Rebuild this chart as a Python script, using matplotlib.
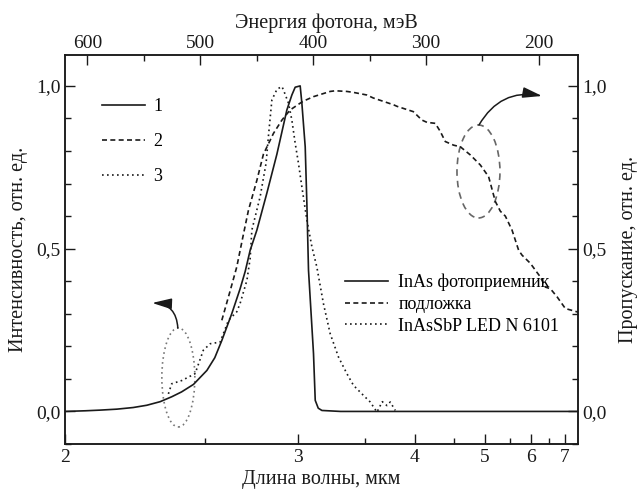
import numpy as np
import matplotlib
matplotlib.use('Agg')
import matplotlib.pyplot as plt
from matplotlib.patches import Ellipse

plt.rcParams['font.family'] = ['Liberation Serif', 'DejaVu Serif']

HC = 1239.84  # meV * um

# InAs photodetector (left axis)
lam_det = [2.000, 2.060, 2.105, 2.160, 2.216, 2.265, 2.315, 2.360, 2.400, 2.450,
           2.509, 2.545, 2.578, 2.626, 2.668, 2.694, 2.720, 2.756, 2.811, 2.869,
           2.929, 2.960, 2.981, 3.013, 3.024, 3.046, 3.057, 3.068, 3.102, 3.114,
           3.135, 3.161, 3.300, 5.000, 7.500]
int_det = [0.000, 0.002, 0.004, 0.007, 0.012, 0.019, 0.030, 0.045, 0.060, 0.083,
           0.126, 0.165, 0.218, 0.300, 0.377, 0.430, 0.495, 0.557, 0.670, 0.790,
           0.926, 0.972, 0.996, 1.000, 0.947, 0.813, 0.640, 0.434, 0.178, 0.034,
           0.010, 0.003, 0.000, 0.000, 0.000]

# substrate transmission (right axis)
lam_sub = [2.578, 2.618, 2.651, 2.680, 2.711, 2.756, 2.792, 2.849, 2.899, 2.949,
           3.013, 3.033, 3.102, 3.221, 3.259, 3.350, 3.404, 3.519, 3.575, 3.771,
           3.809, 3.983, 4.084, 4.145, 4.249, 4.315, 4.383, 4.499, 4.599, 4.755,
           4.923, 5.071, 5.197, 5.296, 5.398, 5.541, 5.690, 5.770, 5.974, 6.241,
           6.384, 6.533, 6.744, 7.025, 7.331, 7.500]
tr_sub = [0.280, 0.370, 0.444, 0.530, 0.618, 0.710, 0.790, 0.854, 0.895, 0.926,
          0.947, 0.953, 0.967, 0.983, 0.985, 0.983, 0.980, 0.972, 0.963, 0.942,
          0.937, 0.921, 0.895, 0.888, 0.885, 0.860, 0.829, 0.818, 0.813, 0.788,
          0.757, 0.721, 0.645, 0.615, 0.600, 0.557, 0.495, 0.480, 0.455, 0.413,
          0.382, 0.377, 0.352, 0.316, 0.309, 0.305]

# InAsSbP LED (left axis)
lam_led = [2.347, 2.360, 2.401, 2.457, 2.493, 2.524, 2.570, 2.610, 2.651, 2.668,
           2.703, 2.720, 2.729, 2.774, 2.807, 2.820, 2.840, 2.870, 2.899, 2.908,
           2.939, 2.960, 2.981, 3.002, 3.024, 3.057, 3.091, 3.125, 3.172, 3.221,
           3.284, 3.350, 3.404, 3.489, 3.548, 3.610, 3.660, 3.705, 3.738, 3.789]
int_led = [0.054, 0.085, 0.095, 0.116, 0.188, 0.208, 0.213, 0.280, 0.306, 0.332,
           0.403, 0.470, 0.557, 0.660, 0.763, 0.844, 0.957, 0.990, 0.998, 0.988,
           0.947, 0.895, 0.824, 0.762, 0.690, 0.588, 0.506, 0.444, 0.331, 0.239,
           0.167, 0.116, 0.080, 0.049, 0.029, -0.002, 0.030, 0.018, 0.029, 0.003]

wl_ticks = [2, 3, 4, 5, 6, 7]
wl_minor = [2.5, 3.5, 4.5, 5.5, 6.5]
en_ticks = [600, 500, 400, 300, 200]
en_minor = [550, 450, 350, 250]
y_ticks = [0.0, 0.5, 1.0]
y_labels = ['0,0', '0,5', '1,0']

ink = '#1a1a1a'


def fwd(x):
    with np.errstate(divide='ignore'):
        return -1.0 / np.asarray(x, dtype=float)


def inv(y):
    with np.errstate(divide='ignore'):
        return -1.0 / np.asarray(y, dtype=float)


fig = plt.figure(figsize=(6.42, 4.90), dpi=100)
ax = fig.add_axes([0.1012, 0.0939, 0.7991, 0.7939])

ax.set_xscale('function', functions=(fwd, inv))
ax.set_xlim(2.0, 7.5)
ax.set_ylim(-0.10, 1.095)

l1, = ax.plot(lam_det, int_det, color=ink, lw=1.2, ls='-')
l2, = ax.plot(lam_sub, tr_sub, color=ink, lw=1.2, ls=(0, (3, 2)))
l3, = ax.plot(lam_led, int_led, color=ink, lw=1.2, ls=(0, (1, 2)))

ax.set_xticks(wl_ticks)
ax.set_xticklabels([str(t) for t in wl_ticks])
ax.set_xticks(wl_minor, minor=True)
ax.set_yticks(y_ticks)
ax.set_yticklabels(y_labels)
ax.set_yticks(np.arange(-0.1, 1.01, 0.1), minor=True)
ax.tick_params(which='both', direction='in', right=True, labelright=True,
               labelsize=14, width=1, colors=ink)
ax.tick_params(which='major', length=7)
ax.tick_params(which='minor', length=4)
ax.tick_params(axis='y', which='both', pad=3)

ax2 = ax.twiny()
ax2.set_xscale('function', functions=(fwd, inv))
ax2.set_xlim(ax.get_xlim())
ax2.set_xticks(HC / np.array(en_ticks, dtype=float))
ax2.set_xticklabels([str(t) for t in en_ticks])
ax2.set_xticks(HC / np.array(en_minor, dtype=float), minor=True)
ax2.tick_params(which='both', direction='in', labelsize=14, width=1, colors=ink, pad=2)
ax2.tick_params(which='major', length=7)
ax2.tick_params(which='minor', length=4)

for a in (ax, ax2):
    for s in a.spines.values():
        s.set_linewidth(1.1)
        s.set_color(ink)

ax.set_xlabel('Длина волны, мкм', fontsize=14.5, color=ink)
ax.xaxis.label.set_va('center')
ax.xaxis.set_label_coords(0.5, -0.0925)
ax2.set_xlabel('Энергия фотона, мэВ', fontsize=14.5, color=ink)
ax2.xaxis.label.set_va('center')
ax2.xaxis.set_label_coords(0.509, 1.082)
ax.set_ylabel('Интенсивность, отн. ед.', fontsize=14.5, color=ink)
ax.yaxis.label.set_va('center')
ax.yaxis.set_label_coords(-0.0915, 0.5)
ax.text(1.099, 0.5, 'Пропускание, отн. ед.', transform=ax.transAxes, rotation=90,
        ha='center', va='center', fontsize=14.5, color=ink)

leg1 = ax.legend([l1, l2, l3], ['1', '2', '3'], loc='upper left',
                 bbox_to_anchor=(0.072, 0.889), frameon=False, fontsize=13,
                 handlelength=2.4, handletextpad=0.45, labelspacing=1.0,
                 borderpad=0, borderaxespad=0)
ax.add_artist(leg1)
ax.legend([l1, l2, l3], ['InAs фотоприемник', 'подложка', 'InAsSbP LED N 6101'],
          loc='upper left', bbox_to_anchor=(0.546, 0.437), frameon=False,
          fontsize=13, handlelength=2.4, handletextpad=0.55, labelspacing=0.25,
          borderpad=0, borderaxespad=0)

ax.add_patch(Ellipse((0.221, 0.171), 0.0643, 0.2545, transform=ax.transAxes,
                     fill=False, ec='#777777', lw=1.2, ls=(0, (1, 2))))
ax.add_patch(Ellipse((0.806, 0.7005), 0.0838, 0.239, transform=ax.transAxes,
                     fill=False, ec='#666666', lw=1.2, ls=(0, (4, 3))))

arrow = dict(arrowstyle='-|>,head_length=0.9,head_width=0.25', color=ink,
             lw=1.1, mutation_scale=13, shrinkA=0, shrinkB=0)
ax.annotate('', xy=(0.170, 0.3625), xytext=(0.220, 0.298), xycoords='axes fraction',
            arrowprops=dict(arrow, connectionstyle='arc3,rad=0.45'))
ax.annotate('', xy=(0.930, 0.8946), xytext=(0.807, 0.820), xycoords='axes fraction',
            arrowprops=dict(arrow, connectionstyle='arc3,rad=-0.35'))

fig.savefig('out.png', dpi=100)
